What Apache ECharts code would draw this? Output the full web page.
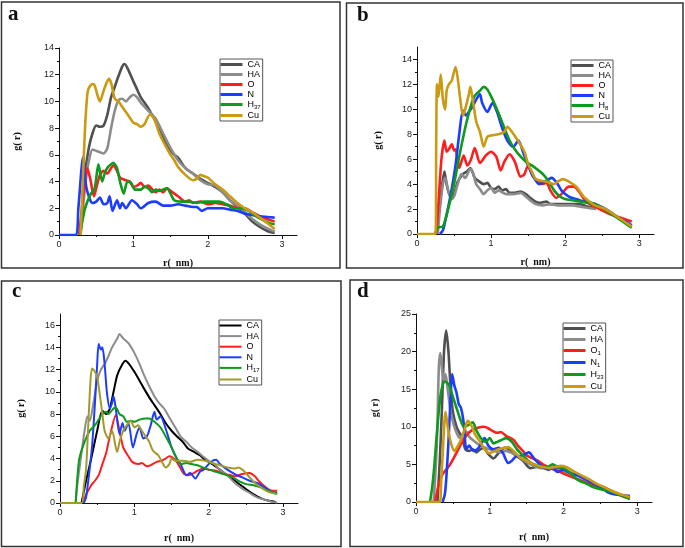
<!DOCTYPE html>
<html><head><meta charset="utf-8">
<script src="https://cdn.jsdelivr.net/npm/echarts@6/dist/echarts.min.js"></script>
<style>
html,body{margin:0;padding:0;background:#fff}
#c{width:685px;height:548px}
</style></head><body>
<div id="c"></div>
<script>
// ---------- tick labels ----------
const xTicks = [0, 1, 2, 3];
const aYTicks = [0, 2, 4, 6, 8, 10, 12, 14];
const bYTicks = [0, 2, 4, 6, 8, 10, 12, 14];
const cYTicks = [0, 2, 4, 6, 8, 10, 12, 14, 16];
const dYTicks = [0, 5, 10, 15, 20, 25];

// ---------- legend names ----------
const aNames = ['CA', 'HA', 'O', 'N', 'H_37', 'Cu'];
const bNames = ['CA', 'HA', 'O', 'N', 'H_8', 'Cu'];
const cNames = ['CA', 'HA', 'O', 'N', 'H_17', 'Cu'];
const dNames = ['CA', 'HA', 'O_1', 'N_1', 'H_23', 'Cu'];

// ---------- panel a : [r (nm), g(r)] ----------
const aCA = [[0.29,0],[0.32,2.5],[0.35,4.6],[0.4,6.5],[0.45,7.6],[0.5,8.2],[0.55,8.1],[0.6,8.2],[0.65,9.0],[0.7,10.3],[0.75,11.1],[0.8,11.9],[0.85,12.6],[0.88,12.8],[0.92,12.5],[1.0,11.5],[1.05,10.9],[1.1,10.3],[1.15,9.9],[1.2,9.5],[1.27,8.8],[1.35,8.0],[1.45,6.7],[1.55,6.0],[1.6,5.8],[1.7,5.0],[1.8,4.6],[1.9,4.2],[2.0,3.9],[2.1,3.6],[2.2,3.2],[2.3,2.6],[2.4,2.1],[2.5,1.6],[2.6,1.0],[2.7,0.6],[2.8,0.3],[2.9,0.15]];
const aHA = [[0.29,0],[0.33,2.5],[0.37,4.5],[0.4,5.5],[0.45,6.4],[0.5,6.3],[0.55,6.2],[0.6,6.1],[0.65,6.5],[0.7,8.0],[0.75,9.3],[0.8,10.1],[0.85,10.2],[0.9,10.0],[0.95,10.3],[1.0,10.5],[1.05,10.3],[1.1,9.9],[1.2,9.3],[1.3,8.7],[1.4,7.6],[1.5,6.5],[1.6,5.6],[1.7,5.0],[1.8,4.6],[1.9,4.1],[2.0,3.8],[2.1,3.7],[2.2,3.2],[2.3,2.6],[2.4,2.2],[2.5,1.7],[2.6,1.2],[2.7,0.8],[2.8,0.5],[2.9,0.25]];
const aO = [[0.27,0],[0.3,1.5],[0.34,3.8],[0.38,5.0],[0.42,4.2],[0.47,2.9],[0.5,3.5],[0.55,4.5],[0.6,4.8],[0.65,4.6],[0.7,5.0],[0.73,5.2],[0.78,4.8],[0.82,4.3],[0.9,4.1],[0.95,4.0],[1.0,3.6],[1.05,3.7],[1.1,3.9],[1.15,3.6],[1.2,3.7],[1.3,3.2],[1.35,3.4],[1.4,3.2],[1.45,3.5],[1.5,3.3],[1.6,2.9],[1.7,2.5],[1.75,2.6],[1.8,2.4],[1.9,2.5],[2.0,2.3],[2.1,2.4],[2.2,2.3],[2.3,2.2],[2.4,2.0],[2.5,2.0],[2.6,1.7],[2.7,1.4],[2.8,1.2],[2.9,1.0]];
const aN = [[0,0],[0.22,0],[0.26,2.0],[0.3,4.8],[0.32,5.8],[0.34,4.8],[0.37,3.5],[0.42,2.6],[0.45,2.4],[0.5,2.5],[0.55,2.8],[0.6,2.3],[0.65,2.4],[0.68,2.9],[0.72,1.8],[0.78,2.6],[0.82,2.0],[0.85,2.4],[0.9,2.0],[0.98,2.6],[1.05,2.3],[1.1,2.0],[1.2,2.4],[1.3,2.5],[1.4,2.2],[1.5,2.2],[1.6,2.3],[1.7,2.2],[1.8,2.1],[1.85,2.1],[1.92,1.8],[2.0,2.0],[2.1,2.0],[2.2,2.0],[2.3,1.9],[2.4,1.8],[2.5,1.6],[2.6,1.5],[2.7,1.4],[2.8,1.35],[2.9,1.3]];
const aH = [[0.28,0],[0.32,1.2],[0.35,2.0],[0.42,3.0],[0.48,3.5],[0.53,5.3],[0.58,4.0],[0.62,4.7],[0.66,5.1],[0.7,5.3],[0.73,5.4],[0.78,5.0],[0.82,4.0],[0.87,3.1],[0.92,4.0],[0.97,3.9],[1.02,3.4],[1.1,3.4],[1.15,3.6],[1.2,3.5],[1.25,3.2],[1.3,3.4],[1.35,3.3],[1.45,3.5],[1.5,3.1],[1.55,2.6],[1.65,2.5],[1.75,2.5],[1.85,2.4],[1.95,2.5],[2.05,2.5],[2.15,2.5],[2.25,2.3],[2.35,2.0],[2.45,2.0],[2.55,1.8],[2.65,1.4],[2.75,1.1],[2.85,0.85],[2.9,0.8]];
const aCu = [[0.29,0],[0.32,4.0],[0.35,8.0],[0.38,10.5],[0.4,11.0],[0.45,11.3],[0.48,11.2],[0.52,10.4],[0.55,10.0],[0.6,10.8],[0.64,11.4],[0.67,11.7],[0.7,11.4],[0.75,10.2],[0.8,10.0],[0.85,9.6],[0.9,9.2],[0.95,8.8],[1.0,8.4],[1.05,8.3],[1.1,8.1],[1.15,8.3],[1.22,9.0],[1.27,8.8],[1.3,8.4],[1.35,7.6],[1.4,7.0],[1.45,6.5],[1.5,6.0],[1.55,5.6],[1.6,5.1],[1.7,4.5],[1.8,4.1],[1.85,4.2],[1.9,4.5],[1.95,4.4],[2.0,4.3],[2.1,3.8],[2.2,3.4],[2.3,2.9],[2.4,2.4],[2.5,2.0],[2.6,1.7],[2.7,1.3],[2.8,0.9],[2.9,0.45]];

// ---------- panel b ----------
const bCA = [[0.26,0],[0.29,1.5],[0.33,3.5],[0.37,5.0],[0.4,4.0],[0.45,3.0],[0.5,3.2],[0.55,4.2],[0.62,4.8],[0.67,5.0],[0.72,5.3],[0.78,4.5],[0.82,4.3],[0.9,4.0],[0.95,4.1],[1.0,3.7],[1.05,3.6],[1.1,3.8],[1.15,3.5],[1.2,3.6],[1.25,3.3],[1.3,3.3],[1.4,3.4],[1.47,3.2],[1.53,2.9],[1.6,2.6],[1.65,2.5],[1.75,2.6],[1.8,2.4],[1.9,2.4],[2.0,2.4],[2.1,2.4],[2.2,2.4],[2.3,2.2],[2.42,2.1]];
const bHA = [[0.28,0],[0.31,2.0],[0.35,4.0],[0.38,4.5],[0.42,3.5],[0.47,2.8],[0.5,3.0],[0.55,4.0],[0.6,4.8],[0.65,4.5],[0.72,5.2],[0.75,5.0],[0.8,4.0],[0.85,3.6],[0.9,3.2],[0.95,3.5],[1.0,3.7],[1.05,3.3],[1.1,3.5],[1.2,3.2],[1.3,3.2],[1.4,3.3],[1.47,3.0],[1.55,2.6],[1.6,2.4],[1.7,2.3],[1.8,2.4],[1.9,2.3],[2.0,2.3],[2.1,2.3],[2.2,2.2],[2.3,2.1],[2.42,2.0]];
const bO = [[0.26,0],[0.29,2.5],[0.33,6.0],[0.37,7.5],[0.4,6.6],[0.43,6.8],[0.47,7.2],[0.5,6.7],[0.52,6.8],[0.57,5.3],[0.6,5.8],[0.63,6.3],[0.68,5.5],[0.73,6.0],[0.78,6.9],[0.85,5.7],[0.93,6.3],[1.0,6.6],[1.07,6.2],[1.13,5.1],[1.18,5.8],[1.25,6.4],[1.32,5.8],[1.4,4.6],[1.45,4.8],[1.5,5.5],[1.57,4.6],[1.65,4.2],[1.7,4.0],[1.75,4.1],[1.8,3.5],[1.88,2.9],[1.95,3.2],[2.05,3.8],[2.12,3.8],[2.2,3.3],[2.28,2.6],[2.4,2.2],[2.5,1.9],[2.6,1.6],[2.7,1.4],[2.8,1.2],[2.9,1.0]];
const bN = [[0.31,0],[0.35,0.3],[0.38,1.0],[0.45,3.0],[0.52,5.5],[0.57,8.0],[0.62,9.9],[0.66,9.5],[0.7,9.8],[0.75,10.2],[0.8,10.8],[0.85,11.2],[0.88,10.5],[0.95,9.8],[1.02,10.5],[1.08,9.8],[1.15,8.5],[1.22,7.5],[1.3,7.0],[1.37,7.5],[1.43,6.6],[1.5,5.5],[1.57,4.6],[1.65,4.0],[1.7,4.1],[1.78,4.4],[1.82,4.5],[1.9,4.0],[1.95,3.5],[2.05,3.0],[2.15,2.8],[2.25,2.6],[2.35,2.5],[2.45,2.3],[2.55,2.0],[2.65,1.6],[2.75,1.2],[2.85,0.9],[2.9,0.7]];
const bH = [[0.24,0],[0.27,0.4],[0.3,0.55],[0.35,0.6],[0.42,2.0],[0.5,4.0],[0.58,6.5],[0.67,9.0],[0.77,11.0],[0.85,11.5],[0.9,11.8],[0.95,11.6],[1.02,10.8],[1.1,9.7],[1.18,8.5],[1.25,7.5],[1.32,6.8],[1.4,6.2],[1.47,5.8],[1.55,5.5],[1.62,5.2],[1.7,4.8],[1.78,4.2],[1.85,3.5],[1.93,3.0],[2.0,2.8],[2.1,2.7],[2.2,2.6],[2.3,2.5],[2.4,2.4],[2.5,2.1],[2.6,1.7],[2.7,1.3],[2.8,0.9],[2.9,0.5]];
const bCu = [[0,0],[0.25,0],[0.26,8.0],[0.27,12.0],[0.29,11.0],[0.32,12.8],[0.35,10.8],[0.38,10.0],[0.4,11.5],[0.43,12.0],[0.47,12.3],[0.52,13.4],[0.55,12.5],[0.58,11.0],[0.62,9.5],[0.65,10.0],[0.7,11.2],[0.72,11.8],[0.76,10.5],[0.8,9.0],[0.85,8.2],[0.9,7.0],[0.95,7.8],[1.0,7.9],[1.1,8.0],[1.18,8.2],[1.22,8.6],[1.28,8.2],[1.35,7.6],[1.45,6.6],[1.5,5.6],[1.55,5.0],[1.6,4.4],[1.65,4.3],[1.75,4.2],[1.85,4.0],[1.9,4.2],[1.97,4.4],[2.05,4.2],[2.15,3.8],[2.25,3.0],[2.35,2.5],[2.4,2.3],[2.5,2.1],[2.6,1.8],[2.7,1.4],[2.8,1.0],[2.9,0.6]];

// ---------- panel c ----------
const cCA = [[0.29,0],[0.32,1.0],[0.35,2.0],[0.42,4.0],[0.5,6.5],[0.57,8.3],[0.62,8.0],[0.67,8.5],[0.72,10.0],[0.77,11.5],[0.84,12.5],[0.88,12.8],[0.93,12.5],[1.0,11.8],[1.07,11.0],[1.12,10.4],[1.2,9.5],[1.27,8.8],[1.35,8.0],[1.42,7.2],[1.5,6.5],[1.57,6.0],[1.65,5.5],[1.72,4.9],[1.8,4.6],[1.88,4.3],[1.95,3.9],[2.05,3.5],[2.15,3.0],[2.25,2.5],[2.35,2.0],[2.45,1.5],[2.55,1.0],[2.65,0.6],[2.75,0.3],[2.85,0.15],[2.9,0.1]];
const cHA = [[0.21,0],[0.24,2.0],[0.28,4.0],[0.33,6.5],[0.37,7.8],[0.4,7.4],[0.45,9.0],[0.5,11.0],[0.55,12.0],[0.6,12.5],[0.65,13.2],[0.7,14.0],[0.77,14.8],[0.8,15.2],[0.85,14.8],[0.93,14.3],[1.0,13.5],[1.07,12.5],[1.13,11.5],[1.2,10.5],[1.27,9.6],[1.33,9.0],[1.4,8.5],[1.47,7.7],[1.55,6.8],[1.62,6.0],[1.7,5.5],[1.77,5.0],[1.85,4.6],[1.92,4.2],[2.0,3.8],[2.07,3.5],[2.15,3.0],[2.25,2.5],[2.35,1.8],[2.45,1.3],[2.55,0.9],[2.65,0.5],[2.75,0.3],[2.85,0.1],[2.92,0.05]];
const cO = [[0.31,0],[0.34,0.6],[0.37,1.0],[0.42,1.6],[0.47,2.0],[0.52,2.5],[0.57,3.5],[0.62,4.5],[0.67,6.0],[0.75,7.9],[0.8,6.5],[0.85,5.0],[0.92,4.2],[0.97,3.7],[1.05,3.5],[1.1,3.6],[1.17,3.3],[1.22,3.4],[1.3,3.7],[1.37,3.8],[1.42,4.0],[1.47,4.2],[1.53,4.0],[1.58,3.6],[1.63,3.0],[1.67,2.6],[1.72,2.5],[1.77,2.6],[1.85,2.9],[1.92,3.1],[2.0,3.0],[2.1,2.9],[2.2,2.6],[2.3,2.5],[2.35,2.4],[2.45,2.6],[2.55,2.7],[2.62,2.4],[2.67,2.0],[2.75,1.5],[2.85,1.1],[2.92,1.1]];
const cN = [[0.32,0],[0.35,0.5],[0.38,2.0],[0.43,5.0],[0.47,9.0],[0.5,12.5],[0.52,14.3],[0.55,13.8],[0.57,14.0],[0.6,12.5],[0.63,10.0],[0.67,8.5],[0.7,9.0],[0.72,9.6],[0.75,8.5],[0.8,6.2],[0.84,7.2],[0.87,6.5],[0.92,7.2],[0.98,5.0],[1.03,6.2],[1.07,6.8],[1.12,5.8],[1.17,6.0],[1.22,7.0],[1.27,8.2],[1.3,7.5],[1.35,7.8],[1.43,6.5],[1.5,5.0],[1.57,4.0],[1.62,3.5],[1.7,2.5],[1.75,2.7],[1.82,2.2],[1.88,2.8],[1.93,3.0],[2.0,3.5],[2.05,3.8],[2.1,3.9],[2.15,3.5],[2.25,3.0],[2.35,2.6],[2.45,2.3],[2.55,2.0],[2.65,1.8],[2.75,1.4],[2.85,1.0],[2.92,0.9]];
const cH = [[0.21,0],[0.23,2.0],[0.26,4.0],[0.33,5.5],[0.4,6.5],[0.47,7.0],[0.52,7.5],[0.57,8.0],[0.62,8.2],[0.65,8.0],[0.72,8.5],[0.75,8.6],[0.8,8.0],[0.85,7.8],[0.9,7.3],[0.95,7.4],[1.0,7.3],[1.07,7.5],[1.15,7.6],[1.2,7.6],[1.27,7.3],[1.35,6.8],[1.42,6.0],[1.5,5.0],[1.57,4.0],[1.63,3.5],[1.7,3.6],[1.77,3.5],[1.85,3.4],[1.92,3.2],[2.0,3.0],[2.1,2.8],[2.2,2.6],[2.3,2.4],[2.4,2.0],[2.5,1.7],[2.6,1.6],[2.7,1.4],[2.8,1.1],[2.92,0.8]];
const cCu = [[0,0],[0.29,0],[0.32,1.5],[0.35,3.0],[0.38,7.0],[0.41,11.0],[0.43,12.1],[0.47,11.8],[0.5,11.3],[0.53,10.0],[0.57,8.0],[0.6,6.5],[0.65,5.8],[0.7,6.5],[0.75,5.0],[0.77,4.6],[0.8,5.5],[0.85,6.5],[0.9,7.0],[0.95,7.4],[1.0,6.8],[1.05,7.0],[1.1,6.5],[1.15,6.0],[1.2,5.5],[1.25,4.7],[1.32,4.3],[1.38,3.6],[1.42,3.2],[1.47,3.5],[1.5,4.0],[1.55,3.8],[1.65,3.8],[1.75,3.7],[1.85,3.9],[1.95,3.8],[2.05,3.6],[2.15,3.4],[2.25,3.2],[2.35,3.1],[2.4,3.2],[2.47,2.9],[2.55,2.3],[2.62,1.8],[2.7,1.4],[2.8,1.0],[2.92,0.8]];

// ---------- panel d ----------
const dCA = [[0.29,0],[0.32,5.0],[0.35,12.0],[0.38,20.0],[0.41,22.8],[0.44,20.0],[0.47,15.0],[0.5,12.0],[0.55,10.0],[0.6,9.0],[0.63,8.5],[0.67,7.0],[0.72,6.8],[0.77,7.0],[0.82,6.6],[0.87,7.0],[0.92,7.2],[0.97,6.5],[1.05,5.8],[1.12,6.5],[1.2,7.2],[1.27,7.0],[1.35,6.2],[1.45,5.5],[1.55,4.5],[1.65,4.7],[1.75,4.7],[1.85,4.5],[1.95,4.4],[2.05,4.0],[2.15,3.7],[2.22,3.6],[2.3,3.0],[2.4,2.5],[2.5,2.0],[2.6,1.6],[2.7,1.2],[2.8,0.8],[2.9,0.5]];
const dHA = [[0.24,0],[0.27,5.0],[0.29,10.0],[0.31,18.0],[0.33,19.8],[0.36,17.0],[0.38,16.0],[0.4,17.0],[0.43,15.0],[0.47,12.0],[0.52,10.0],[0.57,8.8],[0.6,8.5],[0.63,9.0],[0.67,9.5],[0.72,8.7],[0.8,8.0],[0.87,7.5],[0.95,7.2],[1.05,6.8],[1.15,6.6],[1.22,6.8],[1.3,6.5],[1.4,6.0],[1.5,5.3],[1.6,4.8],[1.7,4.5],[1.8,4.5],[1.9,4.3],[2.0,4.2],[2.1,3.9],[2.2,3.5],[2.3,3.0],[2.4,2.6],[2.5,2.1],[2.6,1.7],[2.7,1.3],[2.8,0.9],[2.9,0.6]];
const dO = [[0.26,0],[0.3,2.0],[0.35,3.5],[0.4,4.2],[0.45,4.8],[0.52,6.0],[0.6,7.5],[0.68,8.8],[0.75,9.5],[0.85,9.9],[0.92,10.0],[0.98,9.8],[1.03,9.5],[1.1,9.2],[1.15,9.3],[1.22,8.8],[1.28,8.5],[1.33,8.2],[1.38,7.5],[1.45,6.8],[1.5,6.2],[1.58,5.8],[1.65,5.5],[1.72,5.0],[1.8,4.6],[1.9,4.2],[2.0,3.8],[2.1,3.4],[2.2,3.0],[2.3,2.6],[2.4,2.3],[2.5,2.0],[2.6,1.7],[2.7,1.2],[2.8,0.8],[2.9,0.5]];
const dN = [[0.36,0],[0.39,1.0],[0.41,3.0],[0.44,8.0],[0.47,14.0],[0.49,17.0],[0.52,15.5],[0.55,14.5],[0.58,13.0],[0.61,12.5],[0.64,11.0],[0.66,9.0],[0.68,7.0],[0.72,7.5],[0.78,6.8],[0.83,7.0],[0.87,7.5],[0.93,8.5],[0.98,7.5],[1.05,7.0],[1.12,7.2],[1.18,6.5],[1.25,5.2],[1.3,5.5],[1.35,6.0],[1.45,6.2],[1.53,6.6],[1.6,5.8],[1.7,4.8],[1.8,4.3],[1.85,4.5],[1.92,4.0],[2.0,4.3],[2.1,3.8],[2.2,3.5],[2.3,3.0],[2.4,2.5],[2.5,2.0],[2.6,1.3],[2.7,1.0],[2.8,0.9],[2.9,0.8]];
const dH = [[0.19,0],[0.22,2.0],[0.25,5.0],[0.29,10.0],[0.33,14.0],[0.37,15.8],[0.4,16.0],[0.45,15.5],[0.5,14.0],[0.55,12.5],[0.6,11.0],[0.65,10.0],[0.72,10.3],[0.77,10.6],[0.82,9.5],[0.88,8.5],[0.95,8.0],[1.0,8.5],[1.05,7.8],[1.1,8.0],[1.17,8.3],[1.22,8.5],[1.3,8.0],[1.37,7.0],[1.45,6.2],[1.52,5.5],[1.6,5.0],[1.7,4.7],[1.78,4.6],[1.85,5.0],[1.9,4.8],[2.0,4.5],[2.1,3.8],[2.2,2.9],[2.3,2.5],[2.4,2.0],[2.5,1.7],[2.6,1.5],[2.7,1.2],[2.8,0.8],[2.9,0.4]];
const dCu = [[0,0],[0.32,0],[0.34,2.5],[0.36,6.0],[0.4,12.0],[0.43,10.0],[0.47,8.0],[0.52,6.8],[0.57,7.5],[0.62,8.5],[0.67,10.0],[0.7,10.8],[0.75,10.2],[0.8,9.0],[0.87,8.0],[0.93,7.0],[1.0,6.5],[1.07,6.8],[1.12,7.0],[1.2,7.2],[1.25,7.3],[1.32,6.8],[1.4,6.0],[1.5,5.5],[1.6,5.0],[1.7,4.7],[1.8,4.5],[1.9,4.7],[1.97,4.8],[2.05,4.6],[2.15,4.0],[2.25,3.5],[2.35,3.0],[2.45,2.4],[2.55,2.0],[2.65,1.5],[2.75,1.1],[2.85,0.8],[2.9,0.6]];

// ---------- styling / layout ----------
const GOLD = '#c99a12', RED = '#ff1d1d', BLUE = '#1c3cff', GREEN = '#0e9a1e', GRAY = '#8c8c8c', DARK = '#505050';
const panels = [
  { key:'a', names:aNames, data:[aCA,aHA,aO,aN,aH,aCu], colors:[DARK,GRAY,RED,BLUE,GREEN,GOLD],
    grid:{left:59,top:48,width:238,height:187}, ymax:14, yint:2, yTicks:aYTicks, lw:2.6, icon:3,
    legend:{left:220,top:59}, gap:1, title:{left:8,top:4}, yGap:37, xGap:23 },
  { key:'b', names:bNames, data:[bCA,bHA,bO,bN,bH,bCu], colors:[DARK,GRAY,RED,BLUE,GREEN,GOLD],
    grid:{left:417,top:47,width:237,height:187}, ymax:15, yint:2, yTicks:bYTicks, lw:2.6, icon:3,
    legend:{left:571,top:60}, gap:1, title:{left:357,top:5}, yGap:34, xGap:23 },
  { key:'c', names:cNames, data:[cCA,cHA,cO,cN,cH,cCu], colors:['#000000',GRAY,RED,BLUE,GREEN,'#a39a2c'],
    grid:{left:60,top:314,width:238,height:189}, ymax:17, yint:2, yTicks:cYTicks, lw:2.0, icon:2,
    legend:{left:219,top:320}, gap:1.6, title:{left:12,top:281}, yGap:34, xGap:30 },
  { key:'d', names:dNames, data:[dCA,dHA,dO,dN,dH,dCu], colors:[DARK,GRAY,RED,BLUE,GREEN,GOLD],
    grid:{left:416,top:314,width:236,height:188}, ymax:25, yint:5, yTicks:dYTicks, lw:2.6, icon:3,
    legend:{left:563,top:323}, gap:2, title:{left:357,top:281}, yGap:36, xGap:30 }
];

const tickFont = { fontFamily:'Liberation Sans', fontSize:9, color:'#222' };
const nameFont = { fontFamily:'Liberation Serif', fontWeight:'bold', fontSize:10, color:'#111' };
const axisLine = { show:true, lineStyle:{ color:'#111', width:1 } };

const option = { backgroundColor:'#fff', animation:false, grid:[], xAxis:[], yAxis:[], series:[], legend:[], title:[],
  graphic:[
    {type:'rect', shape:{x:1.5,y:2,width:338.5,height:266}, style:{fill:null,stroke:'#333',lineWidth:1.5}, silent:true},
    {type:'rect', shape:{x:346.5,y:3,width:336.5,height:265}, style:{fill:null,stroke:'#333',lineWidth:1.5}, silent:true},
    {type:'rect', shape:{x:1.5,y:281,width:339.5,height:265.5}, style:{fill:null,stroke:'#333',lineWidth:1.5}, silent:true},
    {type:'rect', shape:{x:350,y:280,width:333,height:266.5}, style:{fill:null,stroke:'#333',lineWidth:1.5}, silent:true}
  ]};

function legendFmt(name){
  const t = name.split('|')[1];
  const m = t.split('_');
  return m.length > 1 ? '{n|' + m[0] + '}{s|' + m[1] + '}' : '{n|' + t + '}';
}

panels.forEach((p, i) => {
  option.grid.push(Object.assign({ containLabel:false }, p.grid));
  option.xAxis.push({
    type:'value', gridIndex:i, min:0, max:3.2, interval:1,
    name:'r(  nm)', nameLocation:'middle', nameGap:p.xGap, nameTextStyle:nameFont,
    axisLine: axisLine, splitLine:{show:false},
    axisTick:{ show:true, inside:false, length:4, lineStyle:{color:'#111'}, customValues:xTicks },
    minorTick:{ show:true, splitNumber:2, length:2, lineStyle:{color:'#111'} },
    axisLabel:Object.assign({ margin:5, customValues:xTicks }, tickFont)
  });
  option.yAxis.push({
    type:'value', gridIndex:i, min:0, max:p.ymax, interval:p.yint,
    name:'g( r)', nameLocation:'middle', nameGap:p.yGap, nameRotate:90, nameTextStyle:nameFont,
    axisLine: axisLine, splitLine:{show:false},
    axisTick:{ show:true, inside:false, length:4, lineStyle:{color:'#111'}, customValues:p.yTicks },
    minorTick:{ show:true, splitNumber:2, length:2, lineStyle:{color:'#111'} },
    axisLabel:Object.assign({ margin:5, customValues:p.yTicks }, tickFont)
  });
  const legendData = [];
  p.names.forEach((nm, j) => {
    const sname = p.key + '|' + nm;
    legendData.push(sname);
    option.series.push({
      type:'line', name:sname, xAxisIndex:i, yAxisIndex:i, data:p.data[j],
      showSymbol:false, symbol:'none', smooth:0.25, z:2 + j,
      lineStyle:{ color:p.colors[j], width:p.lw }, itemStyle:{ color:p.colors[j] }
    });
  });
  option.legend.push({
    data:legendData, orient:'vertical', left:p.legend.left, top:p.legend.top,
    icon:'rect', itemWidth:22, itemHeight:p.icon, itemGap:p.gap, selectedMode:false,
    padding:[1,2,1,0.5], borderColor:'#555', borderWidth:1, backgroundColor:'#fff',
    formatter:legendFmt,
    textStyle:{ rich:{
      n:{ fontFamily:'Liberation Sans', fontSize:9, color:'#000', lineHeight:11 },
      s:{ fontFamily:'Liberation Sans', fontSize:6, color:'#000', lineHeight:7, verticalAlign:'bottom' }
    }}
  });
  option.title.push({
    text:p.key, left:p.title.left, top:p.title.top, padding:0,
    textStyle:{ fontFamily:'Liberation Serif', fontWeight:'bold', fontSize:21, color:'#111' }
  });
});

const chart = echarts.init(document.getElementById('c'), null, { renderer:'canvas' });
chart.setOption(option);
</script>
</body></html>
